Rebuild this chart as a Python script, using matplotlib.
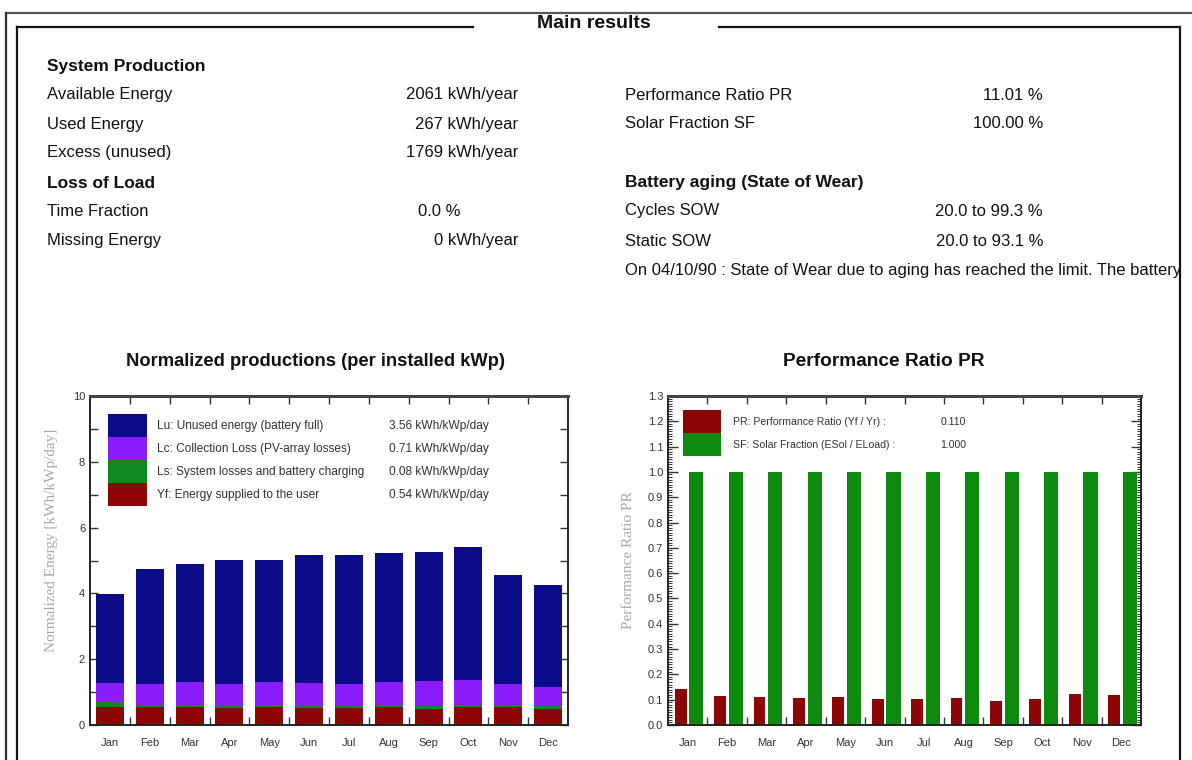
import matplotlib.pyplot as plt
from matplotlib.patches import Rectangle
from matplotlib.ticker import MultipleLocator, FixedLocator
import numpy as np

# monthly values
months = ['Jan', 'Feb', 'Mar', 'Apr', 'May', 'Jun', 'Jul', 'Aug', 'Sep', 'Oct', 'Nov', 'Dec']
# normalized productions [kWh/kWp/day]
yf = [0.55, 0.54, 0.54, 0.53, 0.55, 0.52, 0.53, 0.55, 0.50, 0.54, 0.55, 0.50]
ls = [0.14, 0.07, 0.07, 0.06, 0.06, 0.07, 0.06, 0.07, 0.08, 0.07, 0.06, 0.07]
lc = [0.60, 0.65, 0.70, 0.67, 0.70, 0.70, 0.67, 0.69, 0.76, 0.76, 0.63, 0.58]
lu = [2.68, 3.49, 3.59, 3.76, 3.71, 3.89, 3.90, 3.92, 3.91, 4.04, 3.32, 3.10]
# performance ratio / solar fraction
pr = [0.141, 0.115, 0.111, 0.105, 0.112, 0.101, 0.104, 0.107, 0.095, 0.103, 0.121, 0.119]
sf = [1.0, 1.0, 1.0, 1.0, 1.0, 1.0, 1.0, 1.0, 1.0, 1.0, 1.0, 1.0]

prod_labels = ['Lu: Unused energy (battery full)', 'Lc: Collection Loss (PV-array losses)',
               'Ls: System losses and battery charging', 'Yf: Energy supplied to the user']
prod_values = ['3.56 kWh/kWp/day', '0.71 kWh/kWp/day', '0.08 kWh/kWp/day', '0.54 kWh/kWp/day']
pr_labels = ['PR: Performance Ratio (Yf / Yr) :', 'SF: Solar Fraction (ESol / ELoad) :']
pr_values = ['0.110', '1.000']

# summary block
left_labels = ['System Production', 'Available Energy', 'Used Energy', 'Excess (unused)',
               'Loss of Load', 'Time Fraction', 'Missing Energy']
left_values = ['', '2061 kWh/year', '267 kWh/year', '1769 kWh/year', '', '0.0 %', '0 kWh/year']
right_labels = ['', 'Performance Ratio PR', 'Solar Fraction SF', '',
                'Battery aging (State of Wear)', 'Cycles SOW', 'Static SOW']
right_values = ['', '11.01 %', '100.00 %', '', '', '20.0 to 99.3 %', '20.0 to 93.1 %']
headers = ['System Production', 'Loss of Load', 'Battery aging (State of Wear)']
note = 'On 04/10/90 : State of Wear due to aging has reached the limit. The battery'

c_lu = '#0c0c8a'
c_lc = '#8a1cfa'
c_ls = '#0e8a1e'
c_yf = '#8c0606'
c_sf = '#0e8a0e'

SANS = ['Liberation Sans', 'DejaVu Sans']
SERIF = ['Liberation Serif', 'DejaVu Serif']
plt.rcParams['font.family'] = SANS

W, H = 1192, 760
fig = plt.figure(figsize=(W / 100, H / 100), dpi=100)
fig.patch.set_facecolor('white')

# background layer in pixel coordinates for frame and text
bg = fig.add_axes([0, 0, 1, 1])
bg.set_xlim(0, W)
bg.set_ylim(H, 0)
bg.axis('off')

bg.plot([6, W], [13, 13], color='#555555', lw=1.6)
bg.plot([6, 6], [13, H], color='#333333', lw=1.6)
bg.plot([17, 17], [27, H], color='#111111', lw=1.6)
bg.plot([17, 473], [27, 27], color='#111111', lw=1.6)
bg.plot([719, 1180], [27, 27], color='#111111', lw=1.6)
bg.plot([1180, 1180], [27, H], color='#111111', lw=1.6)
bg.text(594, 24, 'Main results', fontsize=14, fontweight='bold',
        ha='center', va='center', color='#111111')

row_y = [67, 95, 124, 153, 183, 211, 241]
for y, lab, val in zip(row_y, left_labels, left_values):
    bold = lab in headers
    bg.text(47, y, lab, fontsize=12.5 if bold else 12, fontweight='bold' if bold else 'normal',
            va='center', color='#111111')
    if val:
        xr = 460 if val.endswith('%') else 518
        bg.text(xr, y, val, fontsize=12, ha='right', va='center', color='#111111')
for y, lab, val in zip(row_y, right_labels, right_values):
    if lab:
        bold = lab in headers
        bg.text(625, y, lab, fontsize=12.5 if bold else 12, fontweight='bold' if bold else 'normal',
                va='center', color='#111111')
    if val:
        bg.text(1043, y, val, fontsize=12, ha='right', va='center', color='#111111')
bg.text(625, 270, note, fontsize=12, va='center', color='#111111')

bg.text(316, 362, 'Normalized productions (per installed kWp)', fontsize=13.2,
        fontweight='bold', ha='center', va='center', color='#111111')
bg.text(884, 362, 'Performance Ratio PR', fontsize=13.8,
        fontweight='bold', ha='center', va='center', color='#111111')


def px_axes(x0, y0, x1, y1):
    return fig.add_axes([x0 / W, 1 - y1 / H, (x1 - x0) / W, (y1 - y0) / H])


def style_axes(ax):
    for sp in ax.spines.values():
        sp.set_linewidth(1.4)
        sp.set_color('#222222')
    ax.spines['top'].set_linewidth(2.2)
    ax.spines['top'].set_color('#444444')
    ax.set_xlim(0.5, 12.5)
    ax.xaxis.set_major_locator(FixedLocator(range(1, 13)))
    ax.set_xticklabels(months)
    ax.xaxis.set_minor_locator(FixedLocator(np.arange(1.5, 12.5, 1)))
    ax.tick_params(axis='x', which='major', length=0, pad=9, labelsize=8, labelcolor='#333333')
    ax.tick_params(axis='x', which='minor', direction='in', length=6, width=1,
                   top=True, bottom=True, color='#333333')
    ax.tick_params(axis='y', which='both', direction='in', left=True, right=True,
                   labelsize=8, labelcolor='#333333', color='#333333')


x = np.arange(1, 13)

# normalized productions, stacked
ax1 = px_axes(90, 396, 568, 725)
style_axes(ax1)
b1 = np.array(yf)
b2 = b1 + np.array(ls)
b3 = b2 + np.array(lc)
ax1.bar(x, yf, 0.7, color=c_yf, zorder=2)
ax1.bar(x, ls, 0.7, bottom=b1, color=c_ls, zorder=2)
ax1.bar(x, lc, 0.7, bottom=b2, color=c_lc, zorder=2)
ax1.bar(x, lu, 0.7, bottom=b3, color=c_lu, zorder=2)
ax1.set_ylim(0, 10)
ax1.yaxis.set_major_locator(MultipleLocator(2))
ax1.yaxis.set_minor_locator(MultipleLocator(1))
ax1.tick_params(axis='y', which='both', length=6, width=1)
ax1.set_ylabel('Normalized Energy [kWh/kWp/day]', family=SERIF, fontsize=11,
               color='#a8a8a8')
ax1.yaxis.set_label_coords(-0.066, 0.56)

for i, (lab, val, col) in enumerate(zip(prod_labels, prod_values, [c_lu, c_lc, c_ls, c_yf])):
    top = 0.945 - i * 0.07
    ax1.add_patch(Rectangle((0.037, top - 0.07), 0.083, 0.07, transform=ax1.transAxes,
                            facecolor=col, edgecolor='none', zorder=3))
    ax1.text(0.14, top - 0.035, lab, transform=ax1.transAxes, fontsize=8.6,
             va='center', color='#333333', zorder=3)
    ax1.text(0.835, top - 0.035, val, transform=ax1.transAxes, fontsize=8.6,
             va='center', ha='right', color='#333333', zorder=3)

# performance ratio and solar fraction
ax2 = px_axes(668, 396, 1141, 725)
style_axes(ax2)
ax2.bar(x - 0.18, pr, 0.3, color=c_yf, zorder=2)
ax2.bar(x + 0.22, sf, 0.36, color=c_sf, zorder=2)
ax2.set_ylim(0, 1.3)
ax2.yaxis.set_major_locator(MultipleLocator(0.1))
ax2.yaxis.set_minor_locator(MultipleLocator(0.01))
ax2.yaxis.set_major_formatter(plt.FormatStrFormatter('%.1f'))
ax2.tick_params(axis='y', which='major', length=7, width=1)
ax2.tick_params(axis='y', which='minor', length=3, width=0.7)
ax2.set_ylabel('Performance Ratio PR', family=SERIF, fontsize=11,
               color='#a8a8a8', labelpad=9)

for i, (lab, val, col) in enumerate(zip(pr_labels, pr_values, [c_yf, c_sf])):
    top = 0.957 - i * 0.07
    ax2.add_patch(Rectangle((0.032, top - 0.07), 0.08, 0.07, transform=ax2.transAxes,
                            facecolor=col, edgecolor='none', zorder=3))
    ax2.text(0.138, top - 0.035, lab, transform=ax2.transAxes, fontsize=7.6,
             va='center', color='#333333', zorder=3)
    ax2.text(0.576, top - 0.035, val, transform=ax2.transAxes, fontsize=7.6,
             va='center', color='#333333', zorder=3)

fig.savefig('out.png', dpi=100)
